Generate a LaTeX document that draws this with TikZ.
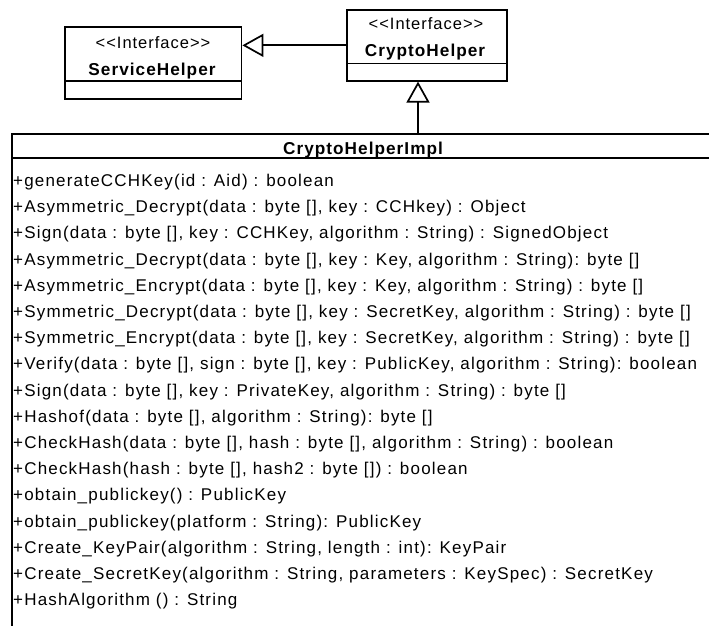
\documentclass[tikz,border=0pt]{standalone}
\usepackage{fontspec}
\setmainfont{Liberation Sans}
\newfontfamily\umlfont[LetterSpace=6]{Liberation Sans}
\newfontfamily\opfont[LetterSpace=7]{Liberation Sans}
\usetikzlibrary{arrows.meta}

\tikzset{
  umlbox/.style={draw, line width=1.8pt, fill=white, inner sep=0pt},
  sepline/.style={line width=1.8pt},
  stereo/.style={anchor=base, inner sep=0pt, font=\umlfont\fontsize{16.5}{19}\selectfont},
  cname/.style={anchor=base, inner sep=0pt, font=\umlfont\bfseries\fontsize{17.2}{20}\selectfont},
  oper/.style={anchor=base west, inner sep=0pt, font=\opfont\fontsize{17}{20}\selectfont},
  realize/.style={line width=1.7pt, -{Triangle[open, length=21pt, width=23pt, line width=1.7pt]}},
}

\begin{document}
\begin{tikzpicture}[x=1pt, y=-1pt]
\clip (0,0) rectangle (709,626);
\fill[white] (0,0) rectangle (709,626);

% interface ServiceHelper
\node[umlbox, minimum width=176.4pt, minimum height=71.4pt] (service) at (153.3,63) {};
\draw[sepline] ([yshift=18.7pt]service.south west) -- ([yshift=18.7pt]service.south east);
\node[stereo] (servicest) at (153,48.3) {<{}<Interface>{}>};
\node[cname] (servicenm) at (152,75) {ServiceHelper};

% interface CryptoHelper
\node[umlbox, minimum width=159.4pt, minimum height=70.7pt] (crypto) at (427,45.35) {};
\draw[sepline] ([yshift=18pt]crypto.south west) -- ([yshift=18pt]crypto.south east);
\node[stereo] (cryptost) at (426,30) {<{}<Interface>{}>};
\node[cname] (cryptonm) at (425,56.7) {CryptoHelper};

% class CryptoHelperImpl
\node[umlbox, minimum width=702pt, minimum height=526pt] (impl) at (363,397) {};
\draw[sepline] ([yshift=-25pt]impl.north west) -- ([yshift=-25pt]impl.north east);
\node[cname] (implnm) at (363,154) {CryptoHelperImpl};

\node[oper] (op1)  at (13,186.5) {+generateCCHKey(id : Aid) : boolean};
\node[oper] (op2)  at (13,212.7) {+Asymmetric\_Decrypt(data : byte [], key : CCHkey) : Object};
\node[oper] (op3)  at (13,238.9) {+Sign(data : byte [], key : CCHKey, algorithm : String) : SignedObject};
\node[oper] (op4)  at (13,265.1) {+Asymmetric\_Decrypt(data : byte [], key : Key, algorithm : String): byte []};
\node[oper] (op5)  at (13,291.3) {+Asymmetric\_Encrypt(data : byte [], key : Key, algorithm : String) : byte []};
\node[oper] (op6)  at (13,317.5) {+Symmetric\_Decrypt(data : byte [], key : SecretKey, algorithm : String) : byte []};
\node[oper] (op7)  at (13,343.7) {+Symmetric\_Encrypt(data : byte [], key : SecretKey, algorithm : String) : byte []};
\node[oper] (op8)  at (13,369.9) {+Verify(data : byte [], sign : byte [], key : PublicKey, algorithm : String): boolean};
\node[oper] (op9)  at (13,396.1) {+Sign(data : byte [], key : PrivateKey, algorithm : String) : byte []};
\node[oper] (op10) at (13,422.3) {+Hashof(data : byte [], algorithm : String): byte []};
\node[oper] (op11) at (13,448.5) {+CheckHash(data : byte [], hash : byte [], algorithm : String) : boolean};
\node[oper] (op12) at (13,474.7) {+CheckHash(hash : byte [], hash2 : byte []) : boolean};
\node[oper] (op13) at (13,500.9) {+obtain\_publickey() : PublicKey};
\node[oper] (op14) at (13,527.1) {+obtain\_publickey(platform : String): PublicKey};
\node[oper] (op15) at (13,553.3) {+Create\_KeyPair(algorithm : String, length : int): KeyPair};
\node[oper] (op16) at (13,579.5) {+Create\_SecretKey(algorithm : String, parameters : KeySpec) : SecretKey};
\node[oper] (op17) at (13,605.7) {+HashAlgorithm () : String};

% realization arrows
\draw[realize] (crypto.west) -- (crypto.west -| service.east);
\coordinate (implport) at (418,134);
\draw[realize] (implport) -- (implport |- crypto.south);
\end{tikzpicture}
\end{document}
